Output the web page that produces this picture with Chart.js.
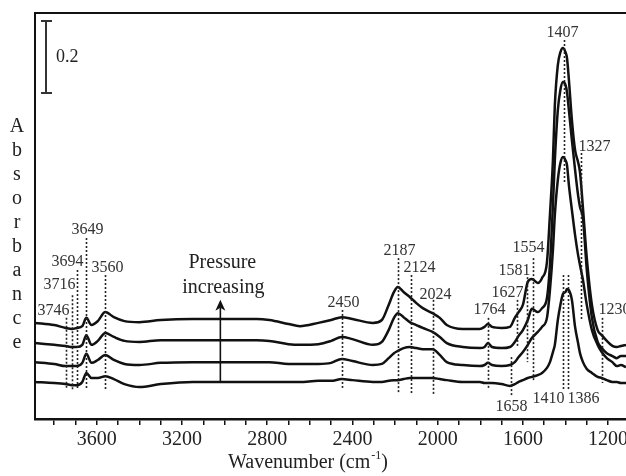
<!DOCTYPE html>
<html>
<head>
<meta charset="utf-8">
<script src="https://cdn.jsdelivr.net/npm/chart.js@4"></script>
<style>
html,body{margin:0;padding:0;background:#fff;overflow:hidden;}
</style>
</head>
<body>
<canvas id="irChart" width="626" height="476"></canvas>
<script>
// wavenumber grid (cm-1)
const wavenumbers = [3890,3800,3746,3716,3694,3668,3649,3625,3595,3560,3520,3470,3400,3300,3150,3000,2850,2790,2700,2647,2560,2500,2450,2400,2304,2262,2230,2205,2187,2160,2131,2100,2070,2024,1990,1957,1882,1802,1780,1764,1745,1700,1661,1638,1620,1600,1577,1558,1530,1510,1487,1473,1459,1450,1436,1424,1412,1400,1393,1384,1370,1355,1341,1332,1318,1300,1276,1249,1230,1206,1180,1159,1140,1116];

// absorbance (stacked, arbitrary offset), lowest pressure first
const pressure1 = [0.103,0.100,0.097,0.094,0.094,0.103,0.128,0.114,0.114,0.119,0.111,0.097,0.089,0.097,0.103,0.103,0.103,0.103,0.103,0.103,0.106,0.106,0.111,0.108,0.103,0.103,0.106,0.108,0.108,0.111,0.114,0.114,0.114,0.114,0.111,0.108,0.103,0.103,0.100,0.100,0.100,0.097,0.092,0.097,0.103,0.108,0.114,0.117,0.122,0.128,0.142,0.158,0.186,0.206,0.275,0.317,0.347,0.353,0.361,0.358,0.331,0.256,0.211,0.183,0.158,0.139,0.128,0.117,0.114,0.108,0.103,0.103,0.100,0.100];
const pressure2 = [0.158,0.153,0.147,0.147,0.147,0.156,0.181,0.156,0.164,0.178,0.164,0.153,0.150,0.156,0.158,0.158,0.158,0.158,0.153,0.153,0.153,0.156,0.167,0.161,0.150,0.153,0.169,0.183,0.189,0.197,0.200,0.197,0.194,0.194,0.178,0.158,0.150,0.147,0.150,0.156,0.150,0.147,0.150,0.158,0.172,0.186,0.206,0.225,0.242,0.256,0.281,0.358,0.469,0.567,0.664,0.711,0.728,0.719,0.706,0.650,0.581,0.511,0.456,0.428,0.386,0.317,0.247,0.206,0.186,0.169,0.158,0.147,0.150,0.144];
const pressure3 = [0.211,0.206,0.203,0.200,0.200,0.206,0.233,0.206,0.217,0.239,0.228,0.217,0.214,0.219,0.219,0.219,0.219,0.217,0.208,0.206,0.208,0.217,0.228,0.222,0.206,0.214,0.247,0.281,0.294,0.283,0.269,0.261,0.253,0.242,0.228,0.211,0.200,0.197,0.200,0.211,0.200,0.197,0.200,0.214,0.231,0.247,0.275,0.306,0.297,0.308,0.336,0.428,0.594,0.719,0.858,0.914,0.936,0.928,0.908,0.858,0.775,0.692,0.622,0.589,0.558,0.414,0.281,0.214,0.197,0.183,0.175,0.169,0.175,0.175];
const pressure4 = [0.267,0.261,0.253,0.250,0.253,0.258,0.281,0.261,0.272,0.297,0.283,0.272,0.269,0.275,0.278,0.278,0.278,0.275,0.264,0.258,0.267,0.275,0.283,0.278,0.267,0.275,0.317,0.353,0.367,0.353,0.339,0.322,0.308,0.294,0.281,0.261,0.250,0.250,0.256,0.264,0.256,0.253,0.256,0.281,0.297,0.317,0.381,0.389,0.378,0.392,0.436,0.567,0.719,0.872,0.983,1.019,1.031,1.019,1.003,0.942,0.831,0.747,0.714,0.686,0.586,0.447,0.317,0.247,0.233,0.217,0.203,0.200,0.203,0.206];

// marked bands and the span of their dotted guide lines (absorbance)
const peakWn     = [3746,3716,3694,3649,3560,2450,2187,2124,2024,1764,1658,1627,1581,1554,1407,1410,1386,1327,1230];
const peakTop    = [0.281,0.344,0.414,0.503,0.400,0.303,0.447,0.400,0.331,0.281,0.172,0.331,0.394,0.447,1.053,0.400,0.400,0.739,0.281];
const peakBottom = [0.081,0.081,0.081,0.086,0.083,0.081,0.069,0.069,0.069,0.086,0.061,0.200,0.158,0.103,0.656,0.083,0.083,0.275,0.100];
const labelBelow = [1658,1410,1386];

// tick values
const tickValues = [1200,1300,1400,1500,1600,1700,1800,1900,2000,2100,2200,2300,2400,2500,2600,2700,2800,2900,3000,3100,3200,3300,3400,3500,3600,3700,3800];

// label nudges in px (dx, dy) for each band label
const labelDx = [-13,-13,-10,1,2,1,1,8,2,1,0,-10,-13,-5,-2,-15,15,13,12];
const labelDy = [-7,-10,-8,-8,-7,-7,-7,-7,-5,-8,10,-7,-6,-10,-7,10,10,-6,-8];

const serif = '"Liberation Serif", "Times New Roman", serif';
const ink = '#111';

function toPoints(vals) {
  return vals.map((v, i) => ({x: wavenumbers[i], y: v}));
}

const extras = {
  id: 'extras',
  afterDatasetsDraw(chart) {
    const {ctx, chartArea: a, scales: {x, y}} = chart;
    ctx.save();

    // frame: left and top
    ctx.strokeStyle = ink;
    ctx.lineWidth = 2;
    ctx.setLineDash([]);
    ctx.beginPath();
    ctx.moveTo(a.left, a.bottom);
    ctx.lineTo(a.left, a.top);
    ctx.lineTo(a.right, a.top);
    ctx.stroke();

    // dotted guide lines + labels
    ctx.font = '16px ' + serif;
    ctx.fillStyle = '#333';
    ctx.textAlign = 'center';
    ctx.textBaseline = 'middle';
    peakWn.forEach((wn, i) => {
      const px = Math.round(x.getPixelForValue(wn)) + 0.5;
      const y1 = y.getPixelForValue(peakTop[i]);
      const y2 = y.getPixelForValue(peakBottom[i]);
      ctx.strokeStyle = '#222';
      ctx.lineWidth = 1.6;
      ctx.setLineDash([2, 2]);
      ctx.beginPath();
      ctx.moveTo(px, y1);
      ctx.lineTo(px, y2);
      ctx.stroke();
      const below = labelBelow.includes(wn) && i >= 10;
      const ly = (below ? y2 : y1) + labelDy[i];
      ctx.fillText(String(wn), px + labelDx[i], ly);
    });
    ctx.setLineDash([]);

    // 0.2 absorbance scale bar
    const sx = a.left + 11;
    const sy1 = y.getPixelForValue(1.106);
    const sy2 = y.getPixelForValue(0.906);
    ctx.strokeStyle = '#333';
    ctx.lineWidth = 2;
    ctx.beginPath();
    ctx.moveTo(sx, sy1); ctx.lineTo(sx, sy2);
    ctx.moveTo(sx - 5, sy1); ctx.lineTo(sx + 6, sy1);
    ctx.moveTo(sx - 5, sy2); ctx.lineTo(sx + 6, sy2);
    ctx.stroke();
    ctx.font = '18px ' + serif;
    ctx.fillStyle = '#222';
    ctx.textAlign = 'left';
    ctx.fillText('0.2', sx + 10, (sy1 + sy2) / 2);

    // pressure arrow
    const ax = x.getPixelForValue(3020);
    const ay1 = y.getPixelForValue(0.103);
    const ay2 = y.getPixelForValue(0.331);
    ctx.strokeStyle = ink;
    ctx.lineWidth = 1.6;
    ctx.beginPath();
    ctx.moveTo(ax, ay1); ctx.lineTo(ax, ay2 + 8);
    ctx.stroke();
    ctx.fillStyle = ink;
    ctx.beginPath();
    ctx.moveTo(ax, ay2);
    ctx.lineTo(ax - 5, ay2 + 11);
    ctx.lineTo(ax, ay2 + 8);
    ctx.lineTo(ax + 5, ay2 + 11);
    ctx.closePath();
    ctx.fill();
    ctx.font = '20px ' + serif;
    ctx.fillStyle = '#222';
    ctx.textAlign = 'center';
    ctx.fillText('Pressure', ax + 2, ay2 - 37);
    ctx.fillText('increasing', ax + 3, ay2 - 12);

    // y title, one letter per line
    const word = 'Absorbance';
    ctx.font = '20px ' + serif;
    for (let k = 0; k < word.length; k++) {
      ctx.fillText(word[k], 17, 127 + k * 24);
    }

    // x title with superscript
    const main = 'Wavenumber (cm';
    const sup = '-1';
    const tail = ')';
    ctx.font = '20px ' + serif;
    const w1 = ctx.measureText(main).width;
    const w3 = ctx.measureText(tail).width;
    ctx.font = '12px ' + serif;
    const w2 = ctx.measureText(sup).width;
    const total = w1 + w2 + w3 + 1;
    const tx = 308 - total / 2;
    const ty = 463;
    ctx.textAlign = 'left';
    ctx.font = '20px ' + serif;
    ctx.fillText(main, tx, ty);
    ctx.font = '12px ' + serif;
    ctx.fillText(sup, tx + w1 + 1, ty - 7);
    ctx.font = '20px ' + serif;
    ctx.fillText(tail, tx + w1 + w2 + 1, ty);

    ctx.restore();
  }
};

const lineStyle = {
  borderColor: ink,
  borderWidth: 2.5,
  pointRadius: 0,
  fill: false,
  cubicInterpolationMode: 'monotone'
};

new Chart(document.getElementById('irChart'), {
  type: 'line',
  data: {
    datasets: [
      {label: 'P1', data: toPoints(pressure1), ...lineStyle},
      {label: 'P2', data: toPoints(pressure2), ...lineStyle},
      {label: 'P3', data: toPoints(pressure3), ...lineStyle},
      {label: 'P4', data: toPoints(pressure4), ...lineStyle}
    ]
  },
  options: {
    responsive: false,
    animation: false,
    devicePixelRatio: 1,
    layout: {padding: {left: 35, top: 13, right: 0, bottom: 21}},
    plugins: {legend: {display: false}, tooltip: {enabled: false}},
    scales: {
      x: {
        type: 'linear',
        reverse: true,
        min: 1116,
        max: 3890,
        afterBuildTicks: (s) => { s.ticks = tickValues.map(v => ({value: v})); },
        afterFit: (s) => { s.paddingLeft = 0; s.paddingRight = 0; },
        border: {display: true, color: ink, width: 2.5},
        grid: {display: true, drawOnChartArea: false, drawTicks: true, tickLength: 6, color: ink, lineWidth: 1.5},
        ticks: {
          autoSkip: false,
          maxRotation: 0,
          padding: 3,
          color: '#222',
          font: {family: serif, size: 20},
          callback: (v) => (v % 400 === 0 ? String(v) : '')
        }
      },
      y: {
        type: 'linear',
        display: false,
        min: 0,
        max: 1.128
      }
    }
  },
  plugins: [extras]
});
</script>
</body>
</html>
